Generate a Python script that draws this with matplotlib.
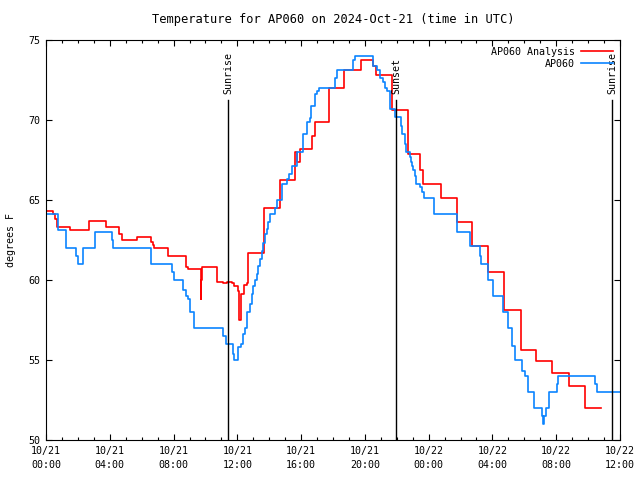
import matplotlib
matplotlib.use("Agg")
import matplotlib.pyplot as plt
from matplotlib.ticker import MultipleLocator

# hours since 2024-10-21 00:00 UTC, temperature in F (step values)
obs_hours = [0.00, 0.75, 1.27, 1.86, 1.98, 2.32, 3.05, 4.12, 4.20, 6.57,
             7.92, 8.03, 8.61, 8.75, 8.91, 9.03, 9.30, 11.12, 11.29, 11.71,
             11.81, 12.06, 12.21, 12.37, 12.48, 12.63, 12.79, 12.90, 13.00, 13.11,
             13.23, 13.32, 13.42, 13.53, 13.63, 13.74, 13.84, 13.94, 14.05, 14.36,
             14.47, 14.78, 15.12, 15.24, 15.41, 15.72, 16.10, 16.40, 16.53, 16.62,
             16.87, 16.98, 17.14, 18.13, 18.23, 19.24, 19.38, 20.49, 20.53, 20.74,
             20.95, 21.12, 21.26, 21.41, 21.58, 21.89, 22.24, 22.31, 22.52, 22.58,
             22.83, 22.89, 22.97, 23.04, 23.14, 23.21, 23.46, 23.56, 23.73, 24.35,
             25.76, 26.59, 27.22, 27.28, 27.70, 28.02, 28.64, 28.99, 29.21, 29.41,
             29.84, 30.04, 30.25, 30.61, 31.09, 31.15, 31.25, 31.34, 31.55, 32.03,
             32.09, 34.43, 34.58, 36.00]
obs_temp = [64.1, 63.1, 62.0, 61.5, 61.0, 62.0, 63.0, 62.5, 62.0, 61.0,
            60.5, 60.0, 59.4, 59.0, 58.8, 58.0, 57.0, 56.5, 56.0, 55.4,
            55.0, 55.8, 56.0, 56.6, 57.0, 58.0, 58.5, 59.1, 59.6, 60.0,
            60.4, 60.9, 61.3, 61.8, 62.3, 62.9, 63.2, 63.6, 64.1, 64.5,
            65.0, 66.0, 66.3, 66.6, 67.1, 68.0, 69.1, 69.9, 70.1, 70.9,
            71.6, 71.8, 72.0, 72.6, 73.1, 73.75, 74.0, 73.75, 73.4, 73.1,
            72.6, 72.35, 72.0, 71.8, 70.7, 70.2, 69.6, 69.1, 68.5, 68.0,
            67.7, 67.4, 67.1, 66.9, 66.5, 66.0, 65.8, 65.5, 65.1, 64.1,
            63.0, 62.1, 61.5, 61.0, 60.0, 59.0, 58.0, 57.0, 55.9, 55.0,
            54.3, 54.0, 53.0, 52.0, 51.5, 51.0, 51.5, 52.0, 53.0, 53.5,
            54.0, 53.5, 53.0, 53.0]

ana_hours = [0.00, 0.46, 0.56, 0.71, 1.53, 2.70, 3.74, 4.58, 4.79, 5.69,
             6.60, 6.73, 6.79, 7.67, 8.76, 8.91, 9.70, 9.75, 9.80, 10.71,
             11.12, 11.35, 11.65, 11.79, 12.06, 12.12, 12.23, 12.42, 12.59, 12.69,
             13.67, 14.68, 15.62, 15.77, 15.93, 16.68, 16.87, 17.77, 18.69, 19.74,
             20.54, 20.70, 21.68, 22.72, 23.46, 23.66, 24.77, 25.76, 26.74, 27.74,
             28.73, 29.77, 30.73, 31.72, 32.78, 33.82, 34.79]
ana_temp = [64.3, 64.1, 63.8, 63.3, 63.1, 63.7, 63.3, 62.9, 62.5, 62.7,
            62.4, 62.2, 62.0, 61.5, 60.8, 60.7, 58.8, 60.0, 60.8, 59.9,
            59.8, 59.9, 59.8, 59.6, 59.3, 57.5, 59.1, 59.7, 59.8, 61.7,
            64.5, 66.25, 68.0, 67.4, 68.2, 69.0, 69.9, 72.0, 73.1, 73.75,
            73.4, 72.8, 70.6, 67.9, 66.9, 66.0, 65.1, 63.6, 62.1, 60.5,
            58.1, 55.6, 54.95, 54.2, 53.4, 52.0, 52.0]

sun_hours = [11.43, 21.95, 35.52]
sun_labels = ["Sunrise", "Sunset", "Sunrise"]

tick_hours = [0, 4, 8, 12, 16, 20, 24, 28, 32, 36]
tick_labels = ["10/21\n00:00", "10/21\n04:00", "10/21\n08:00", "10/21\n12:00",
               "10/21\n16:00", "10/21\n20:00", "10/22\n00:00", "10/22\n04:00",
               "10/22\n08:00", "10/22\n12:00"]

plt.rcParams["font.family"] = "DejaVu Sans Mono"
plt.rcParams["font.size"] = 7.2

fig = plt.figure(figsize=(6.4, 4.8), dpi=100)
ax = fig.add_axes([46 / 640, 40 / 480, 574 / 640, 400 / 480])

ax.plot(ana_hours, ana_temp, drawstyle="steps-post", color="#ff0000", lw=1.2,
        label="AP060 Analysis")
ax.plot(obs_hours, obs_temp, drawstyle="steps-post", color="#0a84ff", lw=1.2,
        label="AP060")

for h, lab in zip(sun_hours, sun_labels):
    ax.axvline(h, ymin=0, ymax=(71.25 - 50) / 25, color="black", lw=1)
    ax.text(h, 71.6, lab, rotation=90, ha="center", va="bottom")

ax.set_xlim(0, 36)
ax.set_ylim(50, 75)
ax.set_xticks(tick_hours)
ax.set_xticklabels(tick_labels, linespacing=1.6)
ax.xaxis.set_minor_locator(MultipleLocator(1))
ax.set_yticks([50, 55, 60, 65, 70, 75])
ax.tick_params(which="both", direction="in", top=True, right=True, pad=4)
ax.tick_params(which="major", length=4.5, width=0.8)
ax.tick_params(which="minor", length=2.3, width=0.8)
for s in ax.spines.values():
    s.set_linewidth(0.8)

ax.set_ylabel("degrees F", labelpad=9)
ax.set_title("Temperature for AP060 on 2024-Oct-21 (time in UTC)", pad=12.5)
ax.legend(loc="upper right", frameon=False, markerfirst=False,
          handlelength=3.2, handletextpad=0.6, labelspacing=0.2,
          borderaxespad=0.3)

fig.savefig("out.png", dpi=100)
